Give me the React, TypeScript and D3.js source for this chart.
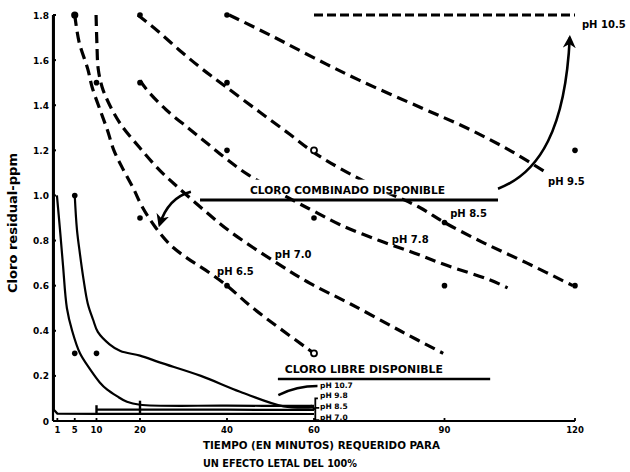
import React from "react";
import * as d3 from "d3";

const W = 630;
const H = 472;

// Axis ticks (minutes / ppm)
const xTickValues = [1, 5, 10, 20, 40, 60, 90, 120];
const yTickValues = [0, 0.2, 0.4, 0.6, 0.8, 1.0, 1.2, 1.4, 1.6, 1.8];
const yTickLabels = ["0", "0.2", "0.4", "0.6", "0.8", "1.0", "1.2", "1.4", "1.6", "1.8"];

// Combined chlorine (dashed curves): minutes vs residual ppm
const combPh65Min = [5, 6, 8, 9, 11, 12.5, 14, 16, 18.5, 20.5, 23.5, 27, 31, 35, 40, 46, 60];
const combPh65Ppm = [1.8, 1.68, 1.56, 1.48, 1.37, 1.29, 1.2, 1.12, 1.03, 0.95, 0.86, 0.78, 0.72, 0.67, 0.6, 0.5, 0.3];

const combPh70Min = [9.9, 10.1, 10.4, 11.3, 12.8, 15.4, 20, 24.6, 28.5, 33.8, 40.7, 51.5, 59.1, 68.3, 79.8, 89.7];
const combPh70Ppm = [1.8, 1.67, 1.56, 1.48, 1.41, 1.32, 1.21, 1.11, 1.04, 0.95, 0.84, 0.7, 0.61, 0.52, 0.4, 0.3];

const combPh78Min = [20, 21.5, 26, 31, 35.5, 40, 45, 56, 60, 66, 75, 83, 90.5, 100.5, 104.5];
const combPh78Ppm = [1.51, 1.47, 1.38, 1.3, 1.23, 1.16, 1.09, 0.97, 0.93, 0.87, 0.8, 0.745, 0.69, 0.625, 0.59];

const combPh85Min = [19.5, 24, 29, 34, 39.5, 47.5, 54.5, 60, 66, 75, 84, 90, 99, 109, 119.5];
const combPh85Ppm = [1.8, 1.73, 1.645, 1.565, 1.485, 1.37, 1.27, 1.19, 1.12, 1.03, 0.95, 0.88, 0.79, 0.7, 0.6];

const combPh95Min = [40.5, 50, 60, 70.5, 84.5, 95, 105, 113.5];
const combPh95Ppm = [1.8, 1.71, 1.61, 1.51, 1.39, 1.3, 1.2, 1.1];

const combPh105Min = [60, 120];
const combPh105Ppm = [1.8, 1.8];

// Free chlorine (solid curves)
const freePh107Min = [5, 5.5, 6.2, 7, 8, 9.2, 10.3, 13, 15.5, 20, 24.5, 34, 43, 53, 60];
const freePh107Ppm = [1.0, 0.85, 0.74, 0.63, 0.52, 0.45, 0.395, 0.34, 0.31, 0.29, 0.26, 0.2, 0.13, 0.065, 0.06];

const freePh98Min = [0.9, 1.6, 2.3, 3.2, 4.4, 6.2, 8.5, 10.8, 12.4, 14.7, 17, 20, 40, 60];
const freePh98Ppm = [1.0, 0.85, 0.69, 0.5, 0.4, 0.3, 0.23, 0.17, 0.14, 0.11, 0.085, 0.072, 0.068, 0.067];

const freePh85Min = [10, 20, 40, 60];
const freePh85Ppm = [0.05, 0.05, 0.05, 0.049];

const freePh70Min = [0.2, 0.2, 1, 10, 60];
const freePh70Ppm = [1.8, 0.05, 0.033, 0.032, 0.031];

// Observed points
const dotMin = [5, 20, 40, 10, 20, 40, 40, 120, 20, 60, 90, 40, 90, 120, 5, 10, 5];
const dotPpm = [1.8, 1.8, 1.8, 1.5, 1.5, 1.5, 1.2, 1.2, 0.9, 0.9, 0.88, 0.6, 0.6, 0.6, 0.3, 0.3, 1.0];
const ringMin = [60, 60];
const ringPpm = [1.2, 0.3];

// Curve labels: text, minutes, ppm (baseline start)
const combLabelText = ["pH 10.5", "pH 9.5", "pH 8.5", "pH 7.8", "pH 7.0", "pH 6.5"];
const combLabelMin = [121.6, 113.8, 91.3, 77.9, 51, 37.7];
const combLabelPpm = [1.742, 1.046, 0.904, 0.789, 0.723, 0.647];

const freeLabelText = ["pH 10.7", "pH 9.8", "pH 8.5", "pH 7.0"];
const freeLabelPpm = [0.142, 0.098, 0.05, 0.0];
const freeLabelMin = 61.4;

const zip = (a: number[], b: number[]): [number, number][] => a.map((v, i) => [v, b[i]]);

export default function App() {
  const x = d3.scaleLinear().domain([0, 120]).range([53, 575]);
  const y = d3.scaleLinear().domain([0, 1.8]).range([421, 15]);

  const smooth = d3
    .line<[number, number]>()
    .x((d) => x(d[0]))
    .y((d) => y(d[1]))
    .curve(d3.curveCatmullRom.alpha(0.5));
  const straight = d3
    .line<[number, number]>()
    .x((d) => x(d[0]))
    .y((d) => y(d[1]));

  const combined = [
    zip(combPh65Min, combPh65Ppm),
    zip(combPh70Min, combPh70Ppm),
    zip(combPh78Min, combPh78Ppm),
    zip(combPh85Min, combPh85Ppm),
    zip(combPh95Min, combPh95Ppm),
  ];
  const free = [zip(freePh107Min, freePh107Ppm), zip(freePh98Min, freePh98Ppm), zip(freePh85Min, freePh85Ppm)];

  const font = "'DejaVu Sans', 'Liberation Sans', sans-serif";
  const ink = "#000";

  // band levels (ppm)
  const combBandPpm = 0.98;
  const freeBandPpm = 0.186;

  const leftArrow = `M${x(31.7)},${y(1.016)} Q${x(26.5)},${y(0.99)} ${x(24.5)},${y(0.87)}`;
  const rightArrow = `M${x(102.3)},${y(1.03)} C${x(112)},${y(1.1)} ${x(117.8)},${y(1.3)} ${x(118.8)},${y(1.7)}`;
  const leader = `M${x(60.8)},${y(0.155)} Q${x(56)},${y(0.155)} ${x(51.8)},${y(0.115)}`;
  const bracket = `M${x(60.9)},${y(0.1)} L${x(60.3)},${y(0.1)} L${x(60.3)},${y(0.004)} L${x(61.2)},${y(0.004)} M${x(60.3)},${y(0.058)} L${x(61.2)},${y(0.058)} M${x(59.2)},${y(0.07)} L${x(60.3)},${y(0.05)}`;

  return (
    <svg
      width={W}
      height={H}
      viewBox={`0 0 ${W} ${H}`}
      style={{ position: "absolute", left: 0, top: 0, background: "#fff" }}
    >
      <defs>
        <marker id="head" viewBox="0 0 10 10" refX="8" refY="5" markerWidth="5" markerHeight="5" orient="auto">
          <path d="M0,0 L10,5 L0,10 L3,5 Z" fill={ink} />
        </marker>
      </defs>
      <rect width={W} height={H} fill="#fff" />

      {/* axes */}
      <line x1={x(0)} x2={x(0)} y1={y(0)} y2={y(1.8)} stroke={ink} strokeWidth={2.2} />
      <line x1={x(0)} x2={x(120)} y1={y(0)} y2={y(0)} stroke={ink} strokeWidth={2.2} />
      {yTickValues.map((v, i) => (
        <g key={"yt" + i}>
          <line x1={x(0)} x2={x(0) + 3} y1={y(v)} y2={y(v)} stroke={ink} strokeWidth={2} />
          <text
            x={x(0) - 4}
            y={y(v) + 3.5}
            textAnchor="end"
            fontFamily={font}
            fontWeight="bold"
            fontSize={9}
            fill={ink}
          >
            {yTickLabels[i]}
          </text>
        </g>
      ))}
      {xTickValues.map((v, i) => (
        <g key={"xt" + i}>
          <line x1={x(v)} x2={x(v)} y1={y(0)} y2={y(0) - 3} stroke={ink} strokeWidth={1.8} />
          <text
            x={x(v)}
            y={y(0) + 12}
            textAnchor="middle"
            fontFamily={font}
            fontWeight="bold"
            fontSize={8.5}
            fill={ink}
          >
            {v}
          </text>
        </g>
      ))}

      {/* combined chlorine curves */}
      {combined.map((pts, i) => (
        <path
          key={"c" + i}
          d={smooth(pts) || ""}
          fill="none"
          stroke={ink}
          strokeWidth={3.2}
          strokeDasharray="11 6"
        />
      ))}
      <path
        d={straight(zip(combPh105Min, combPh105Ppm)) || ""}
        fill="none"
        stroke={ink}
        strokeWidth={3}
        strokeDasharray="9 4"
      />

      {/* free chlorine curves */}
      {free.map((pts, i) => (
        <path key={"f" + i} d={smooth(pts) || ""} fill="none" stroke={ink} strokeWidth={2.2} />
      ))}
      <path d={straight(zip(freePh70Min, freePh70Ppm)) || ""} fill="none" stroke={ink} strokeWidth={2.2} />
      {[10, 20].map((m, i) => (
        <line
          key={"bt" + i}
          x1={x(m)}
          x2={x(m)}
          y1={y(0.028)}
          y2={y(i === 0 ? 0.07 : 0.09)}
          stroke={ink}
          strokeWidth={2.4}
        />
      ))}

      {/* observed points */}
      {zip(dotMin, dotPpm).map((d, i) => (
        <circle key={"d" + i} cx={x(d[0])} cy={y(d[1])} r={i === 0 ? 3.6 : 2.8} fill={ink} />
      ))}
      {zip(ringMin, ringPpm).map((d, i) => (
        <circle key={"r" + i} cx={x(d[0])} cy={y(d[1])} r={3} fill="#fff" stroke={ink} strokeWidth={1.8} />
      ))}

      {/* combined chlorine band */}
      <rect x={x(44.6)} y={y(1.07)} width={x(89.8) - x(44.6)} height={y(1.005) - y(1.07)} fill="#fff" />
      <line
        x1={x(33.8)}
        x2={x(102.3)}
        y1={y(combBandPpm)}
        y2={y(combBandPpm)}
        stroke={ink}
        strokeWidth={3}
      />
      <text
        x={x(45.3)}
        y={y(1.006)}
        fontFamily={font}
        fontWeight="bold"
        fontSize={11}
        textLength={195}
        lengthAdjust="spacingAndGlyphs"
        fill={ink}
      >
        CLORO COMBINADO DISPONIBLE
      </text>
      <path d={leftArrow} fill="none" stroke={ink} strokeWidth={2.6} markerEnd="url(#head)" />
      <path d={rightArrow} fill="none" stroke={ink} strokeWidth={2.6} markerEnd="url(#head)" />

      {/* free chlorine band */}
      <line
        x1={x(51.7)}
        x2={x(100.5)}
        y1={y(freeBandPpm)}
        y2={y(freeBandPpm)}
        stroke={ink}
        strokeWidth={2.6}
      />
      <text
        x={x(53.3)}
        y={y(0.213)}
        fontFamily={font}
        fontWeight="bold"
        fontSize={10}
        textLength={158}
        lengthAdjust="spacingAndGlyphs"
        fill={ink}
      >
        CLORO LIBRE DISPONIBLE
      </text>
      <path d={leader} fill="none" stroke={ink} strokeWidth={2.4} />
      <path d={bracket} fill="none" stroke={ink} strokeWidth={1.8} />

      {/* curve labels */}
      {combLabelText.map((t, i) => (
        <text
          key={"cl" + i}
          x={x(combLabelMin[i])}
          y={y(combLabelPpm[i])}
          fontFamily={font}
          fontWeight="bold"
          fontSize={10}
          fill={ink}
        >
          {t}
        </text>
      ))}
      {freeLabelText.map((t, i) => (
        <text
          key={"fl" + i}
          x={x(freeLabelMin)}
          y={y(freeLabelPpm[i]) - 1}
          fontFamily={font}
          fontWeight="bold"
          fontSize={7.5}
          fill={ink}
        >
          {t}
        </text>
      ))}

      {/* axis titles */}
      <text
        transform={`translate(17,223) rotate(-90)`}
        textAnchor="middle"
        fontFamily={font}
        fontWeight="bold"
        fontSize={12}
        textLength={140}
        lengthAdjust="spacingAndGlyphs"
        fill={ink}
      >
        Cloro residual-ppm
      </text>
      <text
        x={203}
        y={449}
        fontFamily={font}
        fontWeight="bold"
        fontSize={10}
        textLength={237}
        lengthAdjust="spacingAndGlyphs"
        fill={ink}
      >
        TIEMPO (EN MINUTOS) REQUERIDO PARA
      </text>
      <text
        x={203}
        y={467}
        fontFamily={font}
        fontWeight="bold"
        fontSize={10}
        textLength={154}
        lengthAdjust="spacingAndGlyphs"
        fill={ink}
      >
        UN EFECTO LETAL DEL 100%
      </text>
    </svg>
  );
}
